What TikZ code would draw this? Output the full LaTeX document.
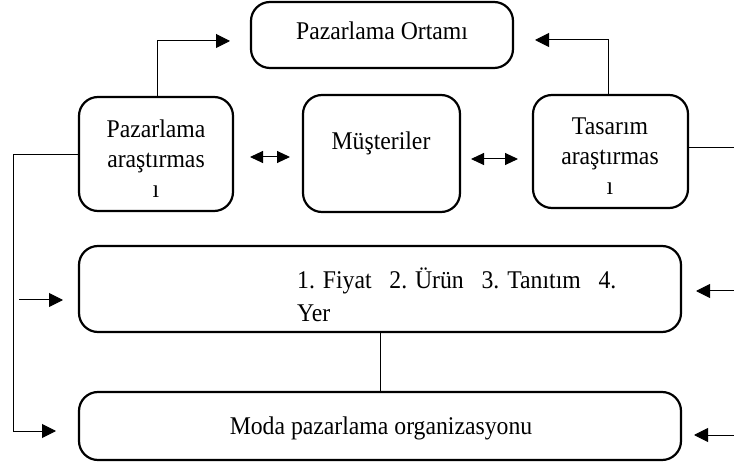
\documentclass[tikz,border=0pt]{standalone}
\usepackage{fontspec}
\setmainfont[FakeStretch=0.93]{Liberation Serif}
\usetikzlibrary{arrows.meta}
\begin{document}
\begin{tikzpicture}[x=1pt,y=-1pt,
  box/.style={draw,line width=2.2pt,rounded corners=19pt,inner sep=0pt},
  txt/.style={font=\fontsize{25.5}{30}\selectfont,inner sep=0pt,align=center},
  conn/.style={line width=1pt},
  tip/.tip={Triangle[length=14pt,width=14pt]},
  arr/.style={conn,-tip},
  darr/.style={conn,{Triangle[length=13pt,width=12pt]}-{Triangle[length=13pt,width=12pt]}}]
\useasboundingbox (0,0) rectangle (734,470);
% boxes
\node[box,minimum width=262pt,minimum height=66pt] (ort) at (382,35) {};
\node[box,minimum width=154pt,minimum height=114pt] (par) at (156,154) {};
\node[box,minimum width=157pt,minimum height=117pt] (mus) at (381.5,153.5) {};
\node[box,minimum width=155pt,minimum height=113pt] (tas) at (610.5,151.5) {};
\node[box,minimum width=602pt,minimum height=86pt] (fiy) at (380,289) {};
\node[box,minimum width=602pt,minimum height=68pt] (moda) at (380,426) {};
% texts
\node[txt] (tort) at (382,31) {Pazarlama Ortamı};
\node[txt] (tpar) at (156,159) {Pazarlama\\araştırmas\\ı};
\node[txt] (tmus) at (381,143) {Müşteriler};
\node[txt] (ttas) at (610,156) {Tasarım\\araştırmas\\ı};
\node[txt,align=left,anchor=west,font=\fontsize{25.5}{33}\selectfont] (tfiy) at (297,295) {1. Fiyat\ \ \ 2. Ürün\ \ \ 3. Tanıtım\ \ \ 4.\\Yer};
\node[txt] (tmoda) at (381,428) {Moda pazarlama organizasyonu};
% coordinates
\coordinate (pt) at (157,97);
\coordinate (pk) at (157,41);
\coordinate (pe) at (230,41);
\coordinate (tt) at (608,95);
\coordinate (tk) at (608,40);
\coordinate (te) at (535,40);
\coordinate (lk1) at (13,155);
\coordinate (lk2) at (13,432);
\coordinate (la1) at (19,300);
\coordinate (lb1) at (63,300);
\coordinate (la2) at (14,431);
\coordinate (lb2) at (56,431);
\coordinate (rk) at (734,148);
\coordinate (ra1) at (734,291);
\coordinate (rb1) at (696,291);
\coordinate (ra2) at (734,435);
\coordinate (rb2) at (694,435);
\coordinate (d1a) at (250,157);
\coordinate (d1b) at (290,157);
\coordinate (d2a) at (471,159);
\coordinate (d2b) at (518,159);
% connectors
\draw[arr] (par.north -| pt) -- (pk) -- (pe);
\draw[arr] (tas.north -| tt) -- (tk) -- (te);
\draw[conn] (par.west |- lk1) -- (lk1) -- (lk2);
\draw[arr] (la1) -- (lb1);
\draw[arr] (la2) -- (lb2);
\draw[conn] (tas.east |- rk) -- (rk);
\draw[arr] (ra1) -- (rb1);
\draw[arr] (ra2) -- (rb2);
\draw[darr] (d1a) -- (d1b);
\draw[darr] (d2a) -- (d2b);
\draw[conn] (fiy.south) -- (moda.north);
\end{tikzpicture}
\end{document}
